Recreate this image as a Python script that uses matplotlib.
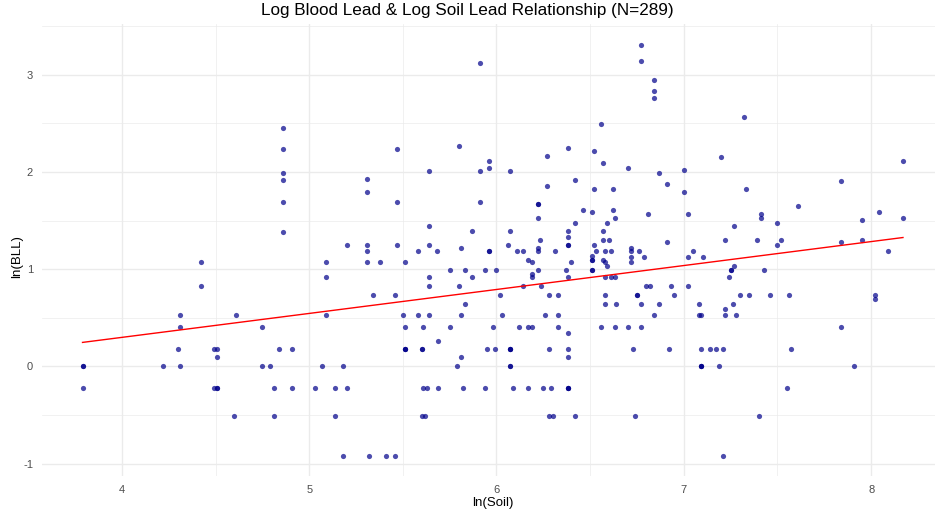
import numpy as np
import matplotlib
matplotlib.use("Agg")
import matplotlib.pyplot as plt
from matplotlib.ticker import MultipleLocator

# ===== Data (grouped by ln(BLL) level) =====
ln_soil = [
    6.77, 6.77, 5.91, 6.84, 6.84, 6.84, 7.32, 6.56, 4.86, 5.80, 6.38,
    5.47, 4.86, 6.52, 6.27, 7.20, 5.96, 8.17, 6.57, 5.96, 6.70, 7.00,
    5.64, 5.91, 6.07, 4.86, 6.87,
    5.31, 4.86, 6.42, 7.84, 6.91, 6.27, 6.52, 6.62, 7.33, 5.31, 7.00,
    4.86, 5.47, 5.91, 6.22, 6.22, 7.61,
    6.46, 6.62, 6.51, 8.04, 6.81, 7.02, 7.41, 6.22, 6.63, 7.41, 8.17,
    7.95, 6.42, 6.59, 7.50, 5.64, 7.27, 4.86, 5.87, 6.07, 6.38, 6.57, 6.38,
    6.23, 6.57, 6.60, 7.22, 7.39, 7.52, 7.95, 6.91, 7.84,
    5.20, 5.31, 5.47, 5.64, 6.06, 6.38, 6.38, 6.52, 7.50,
    5.81, 6.22, 6.72,
    5.31, 5.58, 5.68, 5.96, 5.96, 6.11, 6.14, 6.22, 6.31, 6.53, 6.58,
    6.61, 6.72, 6.76, 7.05, 8.09,
    6.51, 6.72, 6.79, 7.02, 7.10, 6.17, 6.51, 6.51, 6.57,
    4.42, 5.09, 5.31, 5.38, 5.51, 6.19, 6.40, 6.58, 6.72, 6.59, 7.27,
    5.75, 5.83, 5.94, 6.00, 6.22, 6.37, 6.51, 6.51, 7.25, 7.25, 7.43, 6.19,
    5.09, 5.64, 5.87, 6.19, 6.38, 6.58, 6.61, 6.63, 7.24,
    4.42, 5.64, 5.80, 6.14, 6.24, 6.80, 6.82, 6.93, 7.02,
    5.34, 5.46, 6.02, 6.28, 6.33, 6.58, 6.75, 6.75, 6.95, 7.30, 7.35,
    7.46, 7.56, 8.02, 8.02,
    5.83, 6.58, 6.64, 6.77, 6.87, 7.08, 7.26, 7.22,
    4.31, 4.61, 5.09, 5.50, 5.58, 5.64, 5.81, 6.03, 6.26, 6.33, 6.84,
    7.08, 7.09, 7.22, 7.28,
    4.31, 4.75, 5.51, 5.61, 5.75, 5.98, 6.12, 6.17, 6.19, 6.33, 6.56,
    6.63, 6.70, 6.77, 7.84, 6.38, 5.69,
    4.30, 4.49, 4.51, 4.84, 4.91, 5.51, 5.51, 5.51, 5.60, 5.60, 5.95,
    5.99, 6.07, 6.07, 6.07, 6.28, 6.38, 6.73, 6.92, 7.09, 7.14, 7.17,
    7.21, 7.57,
    4.51, 5.81, 6.38,
    3.79, 3.79, 4.22, 4.31, 4.75, 4.79, 5.07, 5.18, 5.79, 6.07, 6.07,
    7.09, 7.09, 7.09, 7.19, 7.91,
    3.79, 4.49, 4.51, 4.51, 4.81, 4.91, 5.03, 5.14, 5.20, 5.61, 5.63,
    5.69, 5.82, 5.94, 6.09, 6.17, 6.25, 6.29, 6.38, 6.38, 6.38, 7.55,
    4.60, 4.81, 5.14, 5.60, 5.62, 6.28, 6.30, 6.42, 6.74, 7.40,
    5.18, 5.32, 5.41, 5.46, 7.21,
]

ln_bll = (
    [3.31, 3.14, 3.12, 2.95, 2.83, 2.76, 2.57, 2.49, 2.45, 2.27, 2.25]
    + [2.24, 2.24, 2.22, 2.17, 2.16, 2.11, 2.11, 2.09, 2.04, 2.04, 2.02]
    + [2.01, 2.01, 2.01, 1.99, 1.99]
    + [1.93, 1.92, 1.92, 1.91, 1.88, 1.86, 1.83, 1.83, 1.83, 1.79, 1.79]
    + [1.69, 1.69, 1.69, 1.67, 1.67, 1.65]
    + [1.61, 1.61, 1.59, 1.59, 1.57, 1.57, 1.57, 1.53, 1.53, 1.53, 1.53]
    + [1.51, 1.48, 1.48, 1.48, 1.44, 1.44, 1.38, 1.39, 1.39, 1.39, 1.39, 1.33]
    + [1.30] * 7 + [1.28, 1.28]
    + [1.25] * 9
    + [1.22] * 3
    + [1.19] * 16
    + [1.14, 1.13, 1.13, 1.13, 1.13, 1.10, 1.10, 1.10, 1.10]
    + [1.07] * 9 + [1.03, 1.03]
    + [0.99] * 11 + [0.95]
    + [0.92] * 9
    + [0.83] * 9
    + [0.74] * 14 + [0.69]
    + [0.64] * 7 + [0.59]
    + [0.53] * 15
    + [0.41] * 15 + [0.34, 0.26]
    + [0.18] * 24
    + [0.10] * 3
    + [0.0] * 16
    + [-0.22] * 22
    + [-0.51] * 10
    + [-0.92] * 5
)

TITLE = "Log Blood Lead & Log Soil Lead Relationship (N=289)"
X_LABEL = "ln(Soil)"
Y_LABEL = "ln(BLL)"

# ===== Plot =====
x = np.array(ln_soil)
y = np.array(ln_bll)
assert len(x) == len(y)

plt.rcParams["font.family"] = ["Liberation Sans", "DejaVu Sans"]
plt.rcParams["axes.unicode_minus"] = False  # plain hyphen like ggplot

fig = plt.figure(figsize=(9.35, 5.14), dpi=100)
# panel spans px 41.5 .. 944 horizontally (slightly cropped on the right), 24 .. 476 vertically
ax = fig.add_axes([41.5 / 935, (514 - 476.4) / 514, 902.5 / 935, 452.2 / 514])

xpad = 0.05 * (x.max() - x.min())
ypad = 0.05 * (y.max() - y.min())
ax.set_xlim(x.min() - xpad, x.max() + xpad)
ax.set_ylim(y.min() - ypad, y.max() + ypad)

ax.xaxis.set_major_locator(MultipleLocator(1))
ax.xaxis.set_minor_locator(MultipleLocator(0.5))
ax.yaxis.set_major_locator(MultipleLocator(1))
ax.yaxis.set_minor_locator(MultipleLocator(0.5))
ax.grid(which="major", color="#ebebeb", linewidth=1.0)
ax.grid(which="minor", color="#ebebeb", linewidth=0.5)
ax.set_axisbelow(True)
for s in ax.spines.values():
    s.set_visible(False)
ax.tick_params(which="both", length=0, labelsize=8, labelcolor="#4d4d4d", pad=6)

ax.scatter(x, y, s=14, color="darkblue", alpha=0.7, linewidths=0, zorder=3)

# least squares line over the data range
slope, intercept = np.polyfit(x, y, 1)
xs = np.array([x.min(), x.max()])
ax.plot(xs, intercept + slope * xs, color="red", linewidth=1.0, zorder=4)

fig.text(0.5, 1 - 10 / 514, TITLE, ha="center", va="center", fontsize=12.3)
fig.text(493 / 935, 11 / 514, X_LABEL, ha="center", va="center", fontsize=9.5)
fig.text(17 / 935, 0.5, Y_LABEL, ha="center", va="center",
         rotation=90, fontsize=9.5)

fig.savefig("out.png", dpi=100)
print(f"points: {len(x)}, slope={slope:.3f}, intercept={intercept:.3f}")
